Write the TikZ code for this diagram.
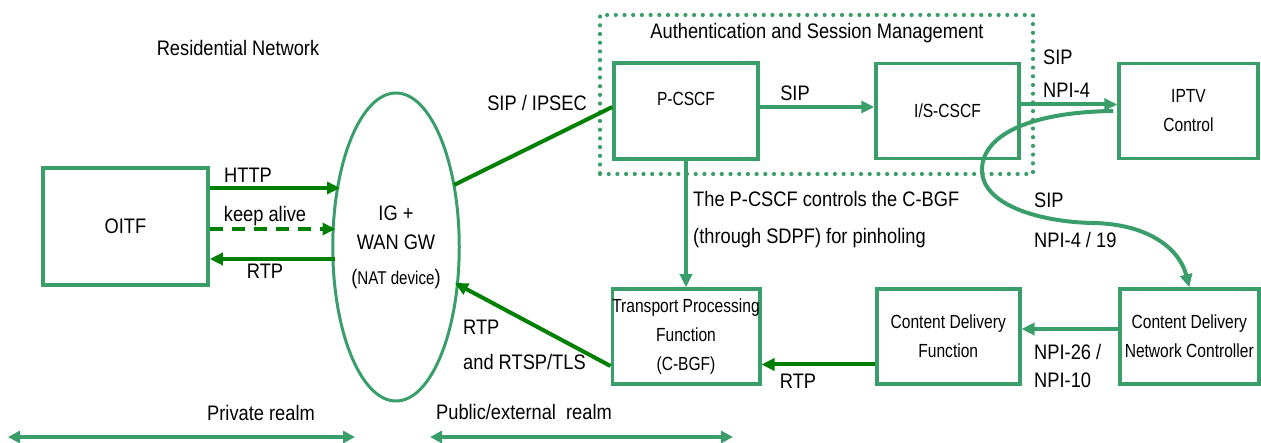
\documentclass[tikz,border=0pt]{standalone}
\usepackage{fontspec}
\setmainfont{Liberation Sans}
\newfontfamily\lblfont[FakeStretch=0.87]{Liberation Sans}
\newfontfamily\boxfont[FakeStretch=0.82]{Liberation Sans}
\usetikzlibrary{shapes.geometric,arrows.meta,positioning}
\definecolor{boxgreen}{RGB}{58,158,106}
\definecolor{flowgreen}{RGB}{0,128,0}

\begin{document}
\begin{tikzpicture}[x=1pt,y=-1pt,
    box/.style={rectangle,draw=boxgreen,line width=3.5pt,inner sep=0pt,minimum width=143pt,minimum height=95pt,align=center,font={\boxfont\fontsize{19}{29}\selectfont}},
    gateway/.style={ellipse,draw=boxgreen,line width=3pt,minimum width=122pt,minimum height=308pt,inner sep=0pt,align=center,font={\lblfont\fontsize{21}{29}\selectfont}},
    lbl/.style={inner sep=0pt,font={\lblfont\fontsize{21}{29}\selectfont}},
    flow/.style={-{Triangle[length=13pt,width=12pt]},line width=4pt,color=flowgreen},
    sig/.style={-{Triangle[length=13pt,width=12pt]},line width=4pt,color=boxgreen},
    realm/.style={{Triangle[length=12pt,width=12pt]}-{Triangle[length=12pt,width=12pt]},line width=4.5pt,color=boxgreen}
]
\useasboundingbox (0,0) rectangle (1261,443);

% Home side
\node[box,minimum width=165pt,minimum height=117pt,font={\lblfont\fontsize{21}{29}\selectfont}] (oitf) at (125.5,226.5) {OITF};
\node[gateway] (ig) at (396,247) {IG +\\WAN GW\\[6pt]({\boxfont\fontsize{18.5}{20}\selectfont NAT device})};

% Session control
\node[box,minimum width=144pt,minimum height=96pt] (pcscf) at (686,111) {P-CSCF\\[-5pt]\mbox{}};
\node[box,right=114.5pt of pcscf] (iscscf) {I/S-CSCF};
\node[box,minimum width=139pt,right=96.5pt of iscscf] (iptv) {IPTV\\Control};
\node[draw=boxgreen,line width=4.2pt,dash pattern=on 0pt off 8.7pt,line cap=round,minimum width=433pt,minimum height=159pt,inner sep=0pt] (auth) at (816.5,94.5) {};

% Transport and delivery
\node[box,minimum width=145pt,below=126.5pt of pcscf] (tpf) {Transport Processing\\Function\\(C-BGF)};
\node[box,right=113.5pt of tpf] (cdf) {Content Delivery\\Function};
\node[box,minimum width=139pt,right=96.5pt of cdf] (cdnc) {Content Delivery\\Network Controller};

% Realm markers
\coordinate (privL) at (8,437);
\coordinate (privR) at (355,437);
\coordinate (pubL) at (430,437);
\coordinate (pubR) at (733,437);

% Connections
\draw[flow] ([yshift=38.5pt]oitf.east) -- ([xshift=-56pt,yshift=59pt]ig.center);
\draw[flow,dash pattern=on 13pt off 9pt] ([yshift=-2.5pt]oitf.east) -- ([xshift=-60.5pt,yshift=18pt]ig.center);
\draw[flow] ([xshift=-61pt,yshift=-12pt]ig.center) -- ([yshift=-32.5pt]oitf.east);
\draw[flow,-] ([xshift=58pt,yshift=62pt]ig.center) -- ([yshift=4pt]pcscf.west);
\draw[sig] ([yshift=4pt]pcscf.east) -- ([yshift=4pt]pcscf.east -| iscscf.west);
\draw[sig] ([yshift=6.5pt]iscscf.east) -- ([yshift=6.5pt]iscscf.east -| iptv.west);
\draw[sig] ([xshift=-4pt]iptv.west) .. controls (1030,112) and (982,135) .. (982,170)
    .. controls (982,205) and (1040,222) .. (1093,223)
    .. controls (1150,224) and (1180,250) .. (cdnc.north);
\draw[sig] (pcscf.south) -- (tpf.north);
\draw[sig] ([yshift=7.5pt]cdnc.west) -- ([yshift=7.5pt]cdnc.west -| cdf.east);
\draw[flow] ([yshift=-28pt]cdf.west) -- ([yshift=-28pt]cdf.west -| tpf.east);
\draw[flow] ([yshift=-29.5pt]tpf.west) -- ([xshift=59pt,yshift=-36pt]ig.center);
\draw[realm] (privL) -- (privR);
\draw[realm] (pubL) -- (pubR);

% Labels
\node[lbl] (reslbl) at (238,48) {Residential Network};
\node[lbl] (authlbl) at (817,33) {Authentication and Session Management};
\node[lbl] (httplbl) at (248,175) {HTTP};
\node[lbl] (alivelbl) at (265,216) {keep alive};
\node[lbl] (rtplbl) at (265,271) {RTP};
\node[lbl] (ipseclbl) at (537,103) {SIP / IPSEC};
\node[lbl] (siplbl) at (795,93) {SIP};
\node[lbl,align=left,anchor=west] (npi4lbl) at (1043,73.5) {SIP\\[4pt]NPI-4};
\node[lbl,align=left,anchor=west] (npi19lbl) at (1034,220) {SIP\\[11pt]NPI-4 / 19};
\node[lbl,align=left,anchor=west] (pinlbl) at (693,219.5) {The P-CSCF controls the C-BGF\\[8pt](through SDPF) for pinholing};
\node[lbl,align=left,anchor=west] (npi26lbl) at (1034,366) {NPI-26 /\\[-1pt]NPI-10};
\node[lbl] (rtpdlbl) at (798,381) {RTP};
\node[lbl,align=left,anchor=west] (rtsplbl) at (463,344.5) {RTP\\[6pt]and RTSP/TLS};
\node[lbl] (privlbl) at (261,413) {Private realm};
\node[lbl] (publbl) at (524,412) {Public/external\ \ realm};

\end{tikzpicture}
\end{document}
